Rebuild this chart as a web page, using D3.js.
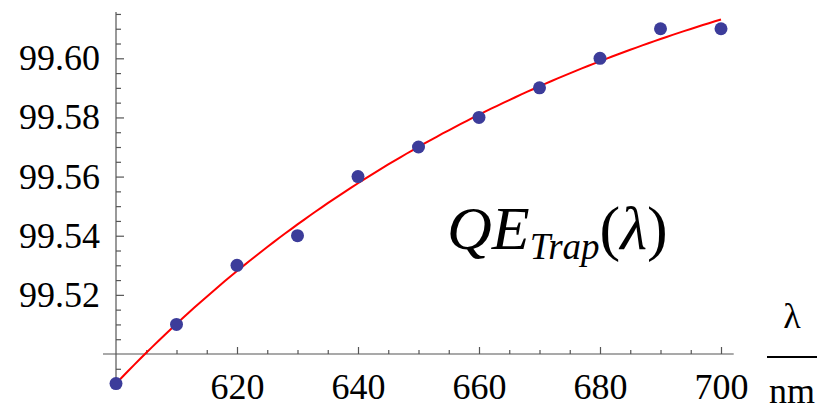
<!DOCTYPE html>
<html>
<head>
<meta charset="utf-8">
<script src="https://cdn.jsdelivr.net/npm/d3@7"></script>
<style>
  html, body { margin: 0; padding: 0; background: #fff; }
</style>
</head>
<body>
<svg id="chart" width="833" height="405"></svg>
<script>
// Measured trap quantum efficiency (%) versus wavelength (nm)
const wavelengths = [600, 610, 620, 630, 640, 650, 660, 670, 680, 690, 700];
const qeValues = [99.49, 99.51, 99.53, 99.54, 99.56, 99.57, 99.58, 99.59, 99.60, 99.61, 99.61];

const xTickLabels = [620, 640, 660, 680, 700];
const yTickLabels = [99.52, 99.54, 99.56, 99.58, 99.60];

const SERIF = `"Liberation Serif", serif`;
const svg = d3.select("#chart");

const x = d3.scaleLinear().domain([600, 700]).range([116, 721]);
const y = d3.scaleLinear().domain([99.50, 99.60]).range([354, 58.3]);

const axisColor = "#555";
const xOriginY = y(99.50);
const yOriginX = x(600);

// minor tick values
const xMinor = d3.range(605, 701, 5).filter(v => v % 20 !== 0);
const yMinor = d3.range(0, 26).map(i => +(99.49 + i * 0.005).toFixed(3))
  .filter(v => !yTickLabels.some(t => Math.abs(t - v) < 1e-6) && Math.abs(v - 99.50) > 1e-6);

// axis lines extend a little past the plotted range
svg.append("line")
  .attr("x1", 103).attr("x2", x(702.1))
  .attr("y1", xOriginY).attr("y2", xOriginY)
  .attr("stroke", axisColor).attr("stroke-width", 1.2);
svg.append("line")
  .attr("x1", yOriginX).attr("x2", yOriginX)
  .attr("y1", y(99.4880)).attr("y2", y(99.6157))
  .attr("stroke", axisColor).attr("stroke-width", 1.2);

// x axis: ticks point up into the plot
const gx = svg.append("g").attr("transform", `translate(0,${xOriginY})`);
gx.call(d3.axisBottom(x).tickValues(xTickLabels).tickSizeInner(-7).tickSizeOuter(0).tickPadding(19).tickFormat(d3.format("d")));
const gxm = svg.append("g").attr("transform", `translate(0,${xOriginY})`);
gxm.call(d3.axisBottom(x).tickValues(xMinor).tickSizeInner(-4).tickSizeOuter(0).tickFormat(""));

// y axis: ticks point right into the plot
const gy = svg.append("g").attr("transform", `translate(${yOriginX},0)`);
gy.call(d3.axisLeft(y).tickValues(yTickLabels).tickSizeInner(-8).tickSizeOuter(0).tickPadding(16).tickFormat(d3.format(".2f")));
const gym = svg.append("g").attr("transform", `translate(${yOriginX},0)`);
gym.call(d3.axisLeft(y).tickValues(yMinor).tickSizeInner(-5).tickSizeOuter(0).tickFormat(""));

svg.selectAll("g").select(".domain").remove();
svg.selectAll(".tick line").attr("stroke", axisColor).attr("stroke-width", 1.2);
svg.selectAll(".tick text")
  .attr("fill", "#000")
  .style("font-family", SERIF)
  .style("font-size", "36px");

// least-squares saturating-exponential fit: q(λ) = A − B·exp(−c·(λ − λ0))
function expFit(xs, ys) {
  const x0 = xs[0];
  let best = null;
  for (let c = 0.001; c <= 0.08; c += 0.0002) {
    const e = xs.map(v => Math.exp(-c * (v - x0)));
    const me = d3.mean(e), my = d3.mean(ys);
    let sxy = 0, sxx = 0;
    e.forEach((ei, i) => { sxy += (ei - me) * (ys[i] - my); sxx += (ei - me) * (ei - me); });
    const slope = sxy / sxx, icpt = my - slope * me;
    const sse = d3.sum(e, (ei, i) => (ys[i] - (icpt + slope * ei)) ** 2);
    if (!best || sse < best.sse) best = { sse, c, icpt, slope };
  }
  return v => best.icpt + best.slope * Math.exp(-best.c * (v - x0));
}
const fit = expFit(wavelengths, qeValues);
const fitPts = d3.range(600, 700.01, 1).map(v => [v, fit(v)]);

svg.append("path")
  .datum(fitPts)
  .attr("fill", "none")
  .attr("stroke", "#ff0000")
  .attr("stroke-width", 2)
  .attr("d", d3.line().x(d => x(d[0])).y(d => y(d[1])));

// measured points
svg.append("g").selectAll("circle")
  .data(wavelengths.map((w, i) => [w, qeValues[i]]))
  .join("circle")
  .attr("cx", d => x(d[0]))
  .attr("cy", d => y(d[1]))
  .attr("r", 6.5)
  .attr("fill", "#3c3c9a");

// in-plot function label
const lbl = svg.append("text")
  .attr("x", 447).attr("y", 249)
  .attr("fill", "#000")
  .style("font-family", SERIF)
  .style("font-size", "62px");
lbl.append("tspan").style("font-style", "italic").text("QE");
lbl.append("tspan").style("font-style", "italic").style("font-size", "37px").attr("dy", 10).text("Trap");
lbl.append("tspan").attr("dy", -10).text("(");
lbl.append("tspan").style("font-style", "italic").text("λ");
lbl.append("tspan").text(")");

// x axis unit label: λ / nm
const unitX = 792;
svg.append("text")
  .attr("x", unitX).attr("y", 328)
  .attr("text-anchor", "middle")
  .style("font-family", SERIF)
  .style("font-size", "36px")
  .text("λ");
svg.append("line")
  .attr("x1", 767).attr("x2", 817)
  .attr("y1", 357).attr("y2", 357)
  .attr("stroke", "#000").attr("stroke-width", 2);
svg.append("text")
  .attr("x", unitX).attr("y", 403)
  .attr("text-anchor", "middle")
  .style("font-family", SERIF)
  .style("font-size", "36px")
  .text("nm");
</script>
</body>
</html>
